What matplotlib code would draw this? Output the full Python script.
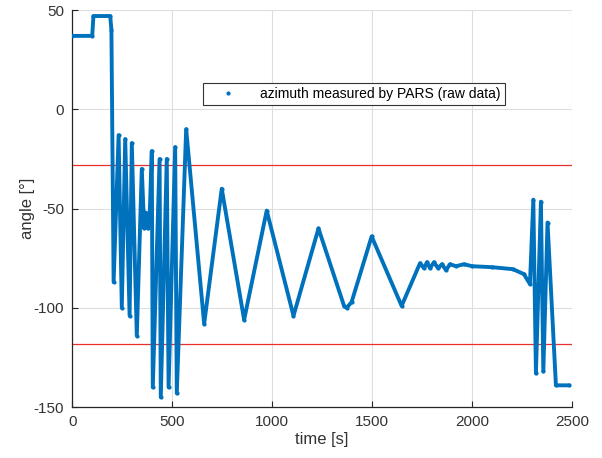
import numpy as np
import matplotlib.pyplot as plt
from matplotlib.lines import Line2D

# azimuth keypoints (time [s], angle [deg])
time_s = [0, 100, 106, 190, 196, 207, 232, 248, 265, 287, 298, 323, 348, 360,
          368, 378, 387, 398, 403, 437, 443, 473, 482, 515, 523, 570, 660, 748,
          860, 973, 1107, 1232, 1360, 1373, 1398, 1498, 1648, 1740, 1760, 1775,
          1790, 1810, 1830, 1850, 1870, 1890, 1920, 1960, 2000, 2100, 2205, 2260,
          2290, 2307, 2320, 2345, 2357, 2378, 2420, 2487]
azimuth = [37, 37, 47, 47, 40, -87, -13, -100, -15, -104, -17, -114, -30, -60,
           -52, -60, -55, -21, -140, -25, -145, -25, -140, -19, -143, -10, -108, -40,
           -106, -51, -104, -60, -99, -100, -97, -64, -99, -77.5, -80, -77,
           -80, -77, -80, -78, -81, -78, -79, -78, -79, -79.5, -80.5, -83,
           -88, -45.5, -133, -46.5, -132, -57, -139, -139]
limits = [-28, -118]

blue = "#0072BD"
plt.rcParams["font.family"] = ["Liberation Sans", "DejaVu Sans"]
plt.rcParams["axes.unicode_minus"] = False

fig = plt.figure(figsize=(6.02, 4.58), dpi=100)
ax = fig.add_axes([0.12, 0.111, 0.83, 0.867])

ax.plot(time_s, azimuth, "-", color=blue, lw=2.8, solid_joinstyle="round",
        solid_capstyle="round", zorder=3)
ax.plot(time_s, azimuth, ".", color=blue, ms=4, zorder=3)
for lim in limits:
    ax.axhline(lim, color="#e8302c", lw=0.9, zorder=2)

ax.set_xlim(0, 2500)
ax.set_ylim(-150, 50)
ax.set_xticks(np.arange(0, 2501, 500))
ax.set_yticks(np.arange(-150, 51, 50))
ax.grid(True, color="#dedede", lw=0.8, zorder=0)
ax.set_axisbelow(True)
for s in ["top", "right"]:
    ax.spines[s].set_visible(False)
for s in ["left", "bottom"]:
    ax.spines[s].set_color("#262626")
    ax.spines[s].set_linewidth(0.9)
ax.tick_params(direction="in", length=4, labelsize=11, colors="#262626",
               labelcolor="#333333", pad=6)
ax.set_xlabel("time [s]", fontsize=12, color="#333333", labelpad=2)
ax.set_ylabel("angle [°]", fontsize=12, color="#333333", labelpad=-1)

handle = Line2D([], [], color=blue, marker=".", ls="none", ms=4)
leg = ax.legend([handle], ["azimuth measured by PARS (raw data)"],
                loc="upper left", bbox_to_anchor=(0.262, 0.816), fontsize=10,
                fancybox=False, framealpha=1, edgecolor="#333333",
                handlelength=3, handletextpad=0.8, borderpad=0.3,
                borderaxespad=0)
leg.get_frame().set_linewidth(0.8)

fig.savefig("out.png", dpi=100)
